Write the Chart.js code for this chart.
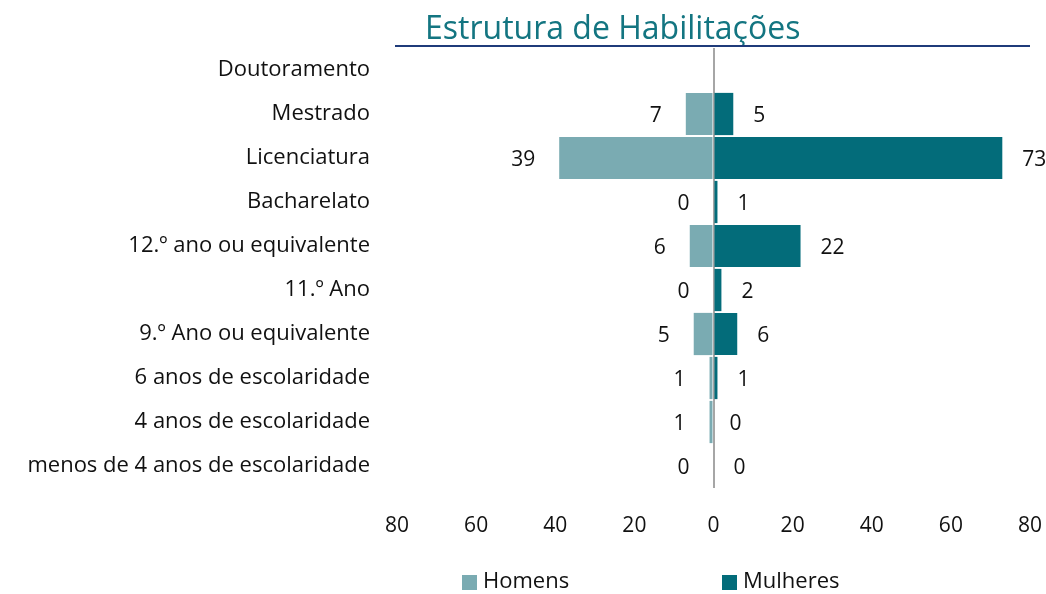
<!DOCTYPE html>
<html>
<head>
<meta charset="utf-8">
<script src="https://cdn.jsdelivr.net/npm/chart.js@4.4.1/dist/chart.umd.min.js"></script>
<style>
html,body{margin:0;padding:0;background:#fff;}
#wrap{width:1046px;height:594px;}
</style>
</head>
<body>
<div id="wrap"><canvas id="c" width="1046" height="594"></canvas></div>
<script>
const categories = [
  "Doutoramento",
  "Mestrado",
  "Licenciatura",
  "Bacharelato",
  "12.º ano ou equivalente",
  "11.º Ano",
  "9.º Ano ou equivalente",
  "6 anos de escolaridade",
  "4 anos de escolaridade",
  "menos de 4 anos de escolaridade"
];
const homens   = [null, 7, 39, 0, 6, 0, 5, 1, 1, 0];
const mulheres = [null, 5, 73, 1, 22, 2, 6, 1, 0, 0];
const xTicks = [-80, -60, -40, -20, 0, 20, 40, 60, 80];
const titleText = "Estrutura de Habilitações";
const seriesNames = ["Homens", "Mulheres"];
const colors = ["#7aabb2", "#036c7a"];

const FONT = "'Open Sans', sans-serif";

const overlay = {
  id: 'overlay',
  afterDatasetsDraw(chart) {
    const ctx = chart.ctx;
    ctx.save();
    ctx.font = "21px " + FONT;
    ctx.fillStyle = "#111";
    ctx.textBaseline = "middle";
    chart.data.datasets.forEach((ds, di) => {
      const meta = chart.getDatasetMeta(di);
      meta.data.forEach((el, i) => {
        const v = ds.raw[i];
        if (v === null || v === undefined) return;
        if (di === 0) {
          ctx.textAlign = "right";
          ctx.fillText(String(v), el.x - 24, el.y + 2);
        } else {
          ctx.textAlign = "left";
          ctx.fillText(String(v), el.x + 20, el.y + 2);
        }
      });
    });
    ctx.restore();
  },
  afterDraw(chart) {
    const ctx = chart.ctx;
    const area = chart.chartArea;
    ctx.save();
    // title
    ctx.font = "32px " + FONT;
    ctx.fillStyle = "#137581";
    ctx.textAlign = "left";
    ctx.textBaseline = "alphabetic";
    ctx.fillText(titleText, 425, 39);
    ctx.strokeStyle = "#1f3b7a";
    ctx.lineWidth = 2;
    ctx.beginPath();
    ctx.moveTo(395, 46);
    ctx.lineTo(area.right, 46);
    ctx.stroke();
    // legend
    const lx = [462, 722];
    ctx.font = "22px " + FONT;
    ctx.textBaseline = "middle";
    chart.data.datasets.forEach((ds, di) => {
      ctx.fillStyle = ds.backgroundColor;
      ctx.fillRect(lx[di], 575, 15, 15);
      ctx.fillStyle = "#111";
      ctx.fillText(ds.label, lx[di] + 21, 582);
    });
    ctx.restore();
  }
};

new Chart(document.getElementById('c'), {
  type: 'bar',
  data: {
    labels: categories,
    datasets: [
      { label: seriesNames[0], data: homens.map(v => v === null ? null : -v), raw: homens,
        backgroundColor: colors[0], barPercentage: 0.96, categoryPercentage: 1 },
      { label: seriesNames[1], data: mulheres, raw: mulheres,
        backgroundColor: colors[1], barPercentage: 0.96, categoryPercentage: 1 }
    ]
  },
  options: {
    indexAxis: 'y',
    responsive: false,
    animation: false,
    layout: { padding: { top: 48, left: 0, right: 16, bottom: 0 } },
    plugins: { legend: { display: false }, title: { display: false }, tooltip: { enabled: false } },
    scales: {
      x: {
        stacked: true,
        min: -80, max: 80,
        afterBuildTicks(s) { s.ticks = xTicks.map(v => ({ value: v })); },
        afterFit(s) { s.height = 106; s.paddingLeft = 0; s.paddingRight = 0; },
        ticks: {
          callback: v => Math.abs(v),
          font: { family: FONT, size: 21 },
          color: "#111",
          padding: 25,
          maxRotation: 0
        },
        grid: {
          drawTicks: false,
          color: c => (c.tick && c.tick.value === 0) ? '#a6a6a6' : 'rgba(0,0,0,0)',
          lineWidth: 2
        },
        border: { display: false }
      },
      y: {
        stacked: true,
        afterFit(s) { s.width = 397; s.paddingTop = 0; s.paddingBottom = 0; },
        ticks: {
          font: { family: FONT, size: 22 },
          color: "#111",
          padding: 27,
          autoSkip: false
        },
        grid: { display: false, drawTicks: false },
        border: { display: false }
      }
    }
  },
  plugins: [overlay]
});
</script>
</body>
</html>
